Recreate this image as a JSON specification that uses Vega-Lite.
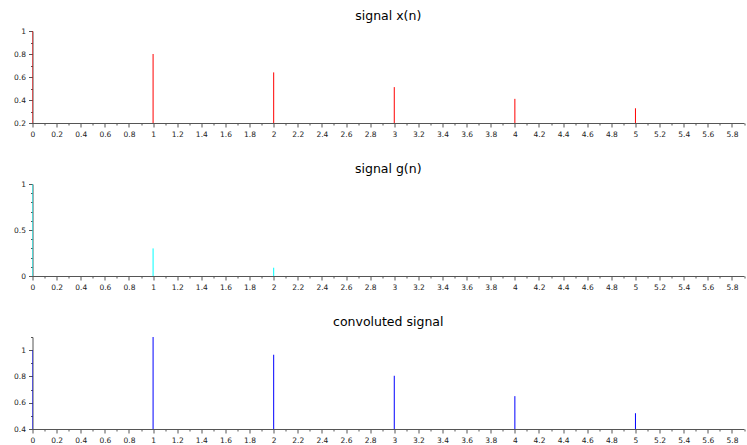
{
  "$schema": "https://vega.github.io/schema/vega-lite/v6.json",
  "background": "white",
  "padding": {"left": 13.5, "top": 10, "right": 3, "bottom": 2},
  "spacing": 61,
  "bounds": "flush",
  "config": {
    "view": {"stroke": null},
    "font": "DejaVu Sans",
    "title": {"font": "DejaVu Sans", "fontSize": 12.5, "fontWeight": "normal", "color": "#000000", "anchor": "middle", "baseline": "alphabetic", "offset": 4.5},
    "axis": {
      "grid": false,
      "title": null,
      "domainColor": "#555555",
      "domainWidth": 1,
      "tickColor": "#555555",
      "labelFont": "DejaVu Sans",
      "labelFontSize": 7.5,
      "labelColor": "#222222",
      "labelOverlap": false,
      "labelFlush": false,
      "labelPadding": 3
    }
  },
  "data": {
    "values": [
      {"signal": "x", "n": 0, "value": 1.0},
      {"signal": "x", "n": 1, "value": 0.8},
      {"signal": "x", "n": 2, "value": 0.64},
      {"signal": "x", "n": 3, "value": 0.512},
      {"signal": "x", "n": 4, "value": 0.41},
      {"signal": "x", "n": 5, "value": 0.328},
      {"signal": "g", "n": 0, "value": 1.0},
      {"signal": "g", "n": 1, "value": 0.3},
      {"signal": "g", "n": 2, "value": 0.09},
      {"signal": "y", "n": 0, "value": 1.0},
      {"signal": "y", "n": 1, "value": 1.1},
      {"signal": "y", "n": 2, "value": 0.965},
      {"signal": "y", "n": 3, "value": 0.805},
      {"signal": "y", "n": 4, "value": 0.65},
      {"signal": "y", "n": 5, "value": 0.52}
    ]
  },
  "vconcat": [
    {
      "title": "signal x(n)",
      "width": 711.5,
      "height": 92,
      "transform": [{"filter": "datum.signal === 'x'"}],
      "mark": {"type": "rule", "color": "#ff0000", "strokeWidth": 1, "clip": true},
      "encoding": {
        "x": {
          "field": "n", "type": "quantitative",
          "scale": {"domain": [0, 5.9], "nice": false, "zero": false},
          "axis": {
            "values": [0,0.1,0.2,0.3,0.4,0.5,0.6,0.7,0.8,0.9,1,1.1,1.2,1.3,1.4,1.5,1.6,1.7,1.8,1.9,2,2.1,2.2,2.3,2.4,2.5,2.6,2.7,2.8,2.9,3,3.1,3.2,3.3,3.4,3.5,3.6,3.7,3.8,3.9,4,4.1,4.2,4.3,4.4,4.5,4.6,4.7,4.8,4.9,5,5.1,5.2,5.3,5.4,5.5,5.6,5.7,5.8,5.9],
            "labelExpr": "round(datum.value*10)%2==0 ? format(datum.value, '~g') : ''",
            "tickSize": {"condition": {"test": "round(datum.value*10)%2==0", "value": 4}, "value": 2}
          }
        },
        "y": {
          "field": "value", "type": "quantitative",
          "scale": {"domain": [0.2, 1], "nice": false, "zero": false},
          "axis": {
            "values": [0.2,0.3,0.4,0.5,0.6,0.7,0.8,0.9,1],
            "labelExpr": "round(datum.value*10)%2==0 ? format(datum.value, '~g') : ''",
            "tickSize": {"condition": {"test": "round(datum.value*10)%2==0", "value": 4}, "value": 2}
          }
        },
        "y2": {"datum": 0}
      }
    },
    {
      "title": "signal g(n)",
      "width": 711.5,
      "height": 92,
      "transform": [{"filter": "datum.signal === 'g'"}],
      "mark": {"type": "rule", "color": "#00ffff", "strokeWidth": 1, "clip": true},
      "encoding": {
        "x": {
          "field": "n", "type": "quantitative",
          "scale": {"domain": [0, 5.9], "nice": false, "zero": false},
          "axis": {
            "values": [0,0.1,0.2,0.3,0.4,0.5,0.6,0.7,0.8,0.9,1,1.1,1.2,1.3,1.4,1.5,1.6,1.7,1.8,1.9,2,2.1,2.2,2.3,2.4,2.5,2.6,2.7,2.8,2.9,3,3.1,3.2,3.3,3.4,3.5,3.6,3.7,3.8,3.9,4,4.1,4.2,4.3,4.4,4.5,4.6,4.7,4.8,4.9,5,5.1,5.2,5.3,5.4,5.5,5.6,5.7,5.8,5.9],
            "labelExpr": "round(datum.value*10)%2==0 ? format(datum.value, '~g') : ''",
            "tickSize": {"condition": {"test": "round(datum.value*10)%2==0", "value": 4}, "value": 2}
          }
        },
        "y": {
          "field": "value", "type": "quantitative",
          "scale": {"domain": [0, 1], "nice": false, "zero": false},
          "axis": {
            "values": [0,0.1,0.2,0.3,0.4,0.5,0.6,0.7,0.8,0.9,1],
            "labelExpr": "round(datum.value*10)%5==0 ? format(datum.value, '~g') : ''",
            "tickSize": {"condition": {"test": "round(datum.value*10)%5==0", "value": 4}, "value": 2}
          }
        },
        "y2": {"datum": 0}
      }
    },
    {
      "title": "convoluted signal",
      "width": 711.5,
      "height": 92,
      "transform": [{"filter": "datum.signal === 'y'"}],
      "mark": {"type": "rule", "color": "#0000ff", "strokeWidth": 1, "clip": true},
      "encoding": {
        "x": {
          "field": "n", "type": "quantitative",
          "scale": {"domain": [0, 5.9], "nice": false, "zero": false},
          "axis": {
            "values": [0,0.1,0.2,0.3,0.4,0.5,0.6,0.7,0.8,0.9,1,1.1,1.2,1.3,1.4,1.5,1.6,1.7,1.8,1.9,2,2.1,2.2,2.3,2.4,2.5,2.6,2.7,2.8,2.9,3,3.1,3.2,3.3,3.4,3.5,3.6,3.7,3.8,3.9,4,4.1,4.2,4.3,4.4,4.5,4.6,4.7,4.8,4.9,5,5.1,5.2,5.3,5.4,5.5,5.6,5.7,5.8,5.9],
            "labelExpr": "round(datum.value*10)%2==0 ? format(datum.value, '~g') : ''",
            "tickSize": {"condition": {"test": "round(datum.value*10)%2==0", "value": 4}, "value": 2}
          }
        },
        "y": {
          "field": "value", "type": "quantitative",
          "scale": {"domain": [0.4, 1.1], "nice": false, "zero": false},
          "axis": {
            "values": [0.4,0.5,0.6,0.7,0.8,0.9,1,1.1],
            "labelExpr": "round(datum.value*10)%2==0 ? format(datum.value, '~g') : ''",
            "tickSize": {"condition": {"test": "round(datum.value*10)%2==0", "value": 4}, "value": 2}
          }
        },
        "y2": {"datum": 0}
      }
    }
  ]
}
